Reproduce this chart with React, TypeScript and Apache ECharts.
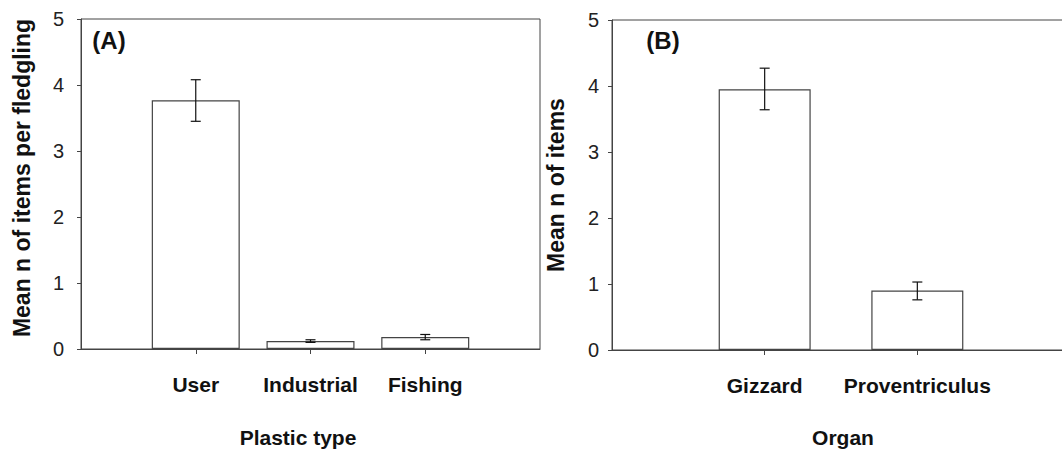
import React, { useEffect, useRef } from "react";
import * as echarts from "echarts";

// Panel A data
const plasticTypes = ["User", "Industrial", "Fishing"];
const plasticMeans = [3.77, 0.12, 0.18];
const plasticLow = [3.45, 0.1, 0.14];
const plasticHigh = [4.08, 0.14, 0.22];

// Panel B data
const organs = ["Gizzard", "Proventriculus"];
const organMeans = [3.95, 0.9];
const organLow = [3.64, 0.76];
const organHigh = [4.27, 1.03];

const yTicks = [0, 1, 2, 3, 4, 5];

const FONT = "'Liberation Sans', Arial, sans-serif";
const LINE = "#444";
const TXT = "#111";
const CW = 1080;

function pad<T>(arr: T[], fill: T): T[] {
  return [fill, ...arr, fill];
}

export default function App() {
  const ref = useRef<HTMLDivElement>(null);
  useEffect(() => {
    if (!ref.current) return;
    const chart = echarts.init(ref.current, undefined, { renderer: "svg" });

    const catsA = pad(plasticTypes, "");
    const catsB = pad(organs, "");

    const xAxisBase = (gridIndex: number, data: string[]) => ({
      type: "category",
      gridIndex,
      data,
      boundaryGap: false,
      axisLine: { show: true, lineStyle: { color: LINE, width: 1 } },
      axisTick: {
        show: true,
        length: 5,
        inside: false,
        interval: (_i: number, v: string) => v !== "",
        lineStyle: { color: LINE },
      },
      axisLabel: {
        interval: 0,
        margin: 25,
        fontFamily: FONT,
        fontSize: 21,
        fontWeight: "bold",
        color: TXT,
      },
      splitLine: { show: false },
    });

    const yAxisBase = (gridIndex: number, margin: number) => ({
      type: "value",
      gridIndex,
      min: yTicks[0],
      max: yTicks[yTicks.length - 1],
      interval: 1,
      axisLine: { show: true, lineStyle: { color: LINE, width: 1 } },
      axisTick: { show: true, length: 4, inside: false, lineStyle: { color: LINE } },
      axisLabel: {
        margin,
        fontFamily: FONT,
        fontSize: 20,
        color: "#222",
      },
      splitLine: { show: false },
    });

    const errSeries = (xi: number, low: number[], high: number[]) => ({
      type: "custom",
      xAxisIndex: xi,
      yAxisIndex: xi,
      z: 5,
      data: low.map((l, i) => [i + 1, l, high[i]]),
      renderItem: (_p: any, api: any) => {
        const x = api.value(0);
        const lo = api.coord([x, api.value(1)]);
        const hi = api.coord([x, api.value(2)]);
        const cw = 5;
        const style = { stroke: "#111", lineWidth: 1.2 };
        return {
          type: "group",
          children: [
            { type: "line", shape: { x1: lo[0], y1: lo[1], x2: hi[0], y2: hi[1] }, style },
            { type: "line", shape: { x1: lo[0] - cw, y1: lo[1], x2: lo[0] + cw, y2: lo[1] }, style },
            { type: "line", shape: { x1: hi[0] - cw, y1: hi[1], x2: hi[0] + cw, y2: hi[1] }, style },
          ],
        };
      },
    });

    const barSeries = (xi: number, vals: number[], width: number) => ({
      type: "bar",
      xAxisIndex: xi,
      yAxisIndex: xi,
      data: pad(vals as (number | null)[], null),
      barWidth: width,
      itemStyle: { color: "#fff", borderColor: "#444", borderWidth: 1.2 },
      z: 3,
    });

    const txt = (text: string, x: number, y: number, size: number, rot = 0) => ({
      type: "text",
      x,
      y,
      rotation: rot,
      style: {
        text,
        fontFamily: FONT,
        fontSize: size,
        fontWeight: "bold",
        fill: TXT,
        align: "center",
        verticalAlign: "middle",
      },
    });

    chart.setOption({
      animation: false,
      backgroundColor: "#fff",
      grid: [
        { left: 81, top: 19, right: CW - 540, bottom: 101, show: true, borderColor: LINE, borderWidth: 1, backgroundColor: "transparent" },
        { left: 612, top: 20, right: CW - 1070, bottom: 100, show: true, borderColor: LINE, borderWidth: 1, backgroundColor: "transparent" },
      ],
      xAxis: [xAxisBase(0, catsA), xAxisBase(1, catsB)],
      yAxis: [yAxisBase(0, 17), yAxisBase(1, 13)],
      series: [
        barSeries(0, plasticMeans, 88),
        errSeries(0, plasticLow, plasticHigh),
        barSeries(1, organMeans, 92),
        errSeries(1, organLow, organHigh),
      ],
      graphic: [
        txt("Mean n of items per fledgling", 22, 178, 23, Math.PI / 2),
        txt("Mean n of items", 556, 185, 23, Math.PI / 2),
        txt("Plastic type", 298, 437, 21),
        txt("Organ", 843, 437, 21),
        txt("(A)", 109, 40, 24),
        txt("(B)", 663, 40, 24),
      ],
    });
    return () => chart.dispose();
  }, []);

  return (
    <div style={{ position: "fixed", left: 0, top: 0, width: 1062, height: 450, overflow: "hidden", background: "#fff" }}>
      <div ref={ref} style={{ width: CW, height: 450 }} />
    </div>
  );
}
